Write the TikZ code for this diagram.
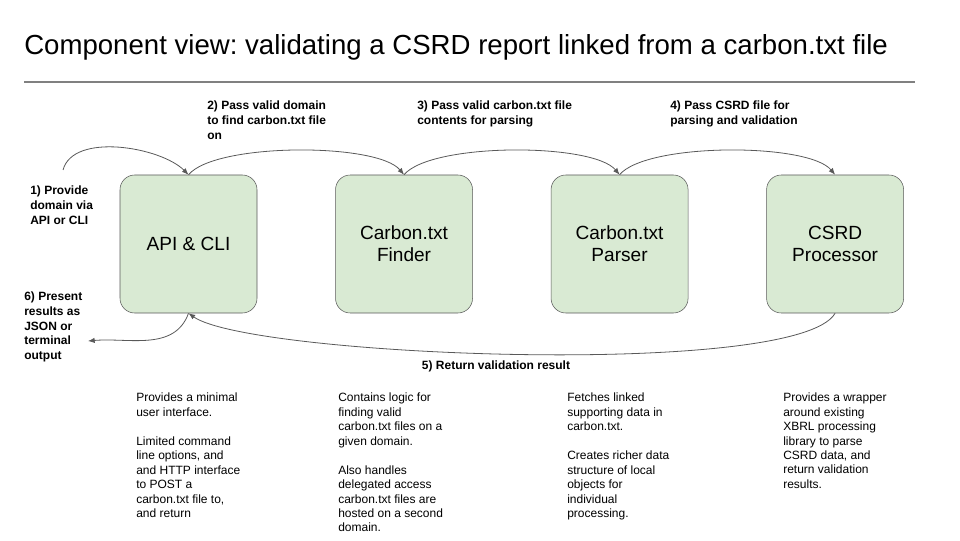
\documentclass[tikz,border=0pt]{standalone}
\usepackage{fontspec}
\setmainfont{Liberation Sans}
\usetikzlibrary{arrows.meta}
\usetikzlibrary{positioning}
\definecolor{boxgreen}{HTML}{D9EAD3}
\definecolor{edgegray}{HTML}{595959}
\frenchspacing

\begin{document}
\begin{tikzpicture}[x=0.75pt,y=0.75pt,
	comp/.style={draw=edgegray, fill=boxgreen, rounded corners=11pt, minimum width=102.75pt, minimum height=103.5pt, align=center, font=\fontsize{14.3}{16.5}\selectfont},
	flow/.style={draw=edgegray, line width=0.6pt, -{Latex[length=5pt,width=4pt]}},
	steplabel/.style={inner sep=0pt, align=left, font=\bfseries\fontsize{9}{10.9}\selectfont},
	desc/.style={anchor=north west, inner sep=0pt, align=left, font=\fontsize{9}{10.8}\selectfont}]
	\useasboundingbox (0,0) rectangle (960,540);
	
	% Title
	\node[anchor=west, inner sep=0pt, font=\fontsize{20.7}{24}\selectfont] (title) at (24,493) {Component view: validating a CSRD report linked from a carbon.txt file};
	\draw[gray, line width=1.5pt] (24,458) -- (915,458);
	
	% Components
	\node[comp] (api) at (188.5,296) {API \& CLI};
	\node[comp, right=58.5pt of api] (finder) {Carbon.txt\\Finder};
	\node[comp, right=58.5pt of finder] (parser) {Carbon.txt\\Parser};
	\node[comp, right=58.5pt of parser] (csrd) {CSRD\\Processor};
	
	% Free ends
	\coordinate (in) at (63,370);
	\coordinate (out) at (88,199);
	
	% Arrows
	\draw[flow] (in) to[out=75, in=135, looseness=0.8] (api.north);
	\foreach \a/\b in {api/finder, finder/parser, parser/csrd} {
		\draw[flow] (\a.north) to[out=50, in=130, looseness=0.5] (\b.north);
	}
	\draw[flow] (csrd.south) to[out=-120, in=-35, looseness=0.3] (api.south);
	\draw[flow] (api.south) to[out=-110, in=5] (out);
	
	% Step labels
	\node[steplabel, anchor=north west] (s1) at (30,354) {1) Provide\\domain via\\API or CLI};
	\node[steplabel, anchor=north west] (s2) at (207,439) {2) Pass valid domain\\to find carbon.txt file\\on};
	\node[steplabel, anchor=north west] (s3) at (417,439) {3) Pass valid carbon.txt file\\contents for parsing};
	\node[steplabel, anchor=north west] (s4) at (670,439) {4) Pass CSRD file for\\parsing and validation};
	\node[steplabel] (s5) at (496,174) {5) Return validation result};
	\node[steplabel, anchor=north west] (s6) at (24,248) {6) Present\\results as\\JSON or\\terminal\\output};
	
	% Descriptions
	\node[desc] (apitext) at (136,147) {Provides a minimal\\user interface.\\[11pt]Limited command\\line options, and\\and HTTP interface\\to POST a\\carbon.txt file to,\\and return};
	\node[desc] (findertext) at (338,147) {Contains logic for\\finding valid\\carbon.txt files on a\\given domain.\\[11pt]Also handles\\delegated access\\carbon.txt files are\\hosted on a second\\domain.};
	\node[desc] (parsertext) at (567,147) {Fetches linked\\supporting data in\\carbon.txt.\\[11pt]Creates richer data\\structure of local\\objects for\\individual\\processing.};
	\node[desc] (csrdtext) at (783,147) {Provides a wrapper\\around existing\\XBRL processing\\library to parse\\CSRD data, and\\return validation\\results.};
\end{tikzpicture}
\end{document}
